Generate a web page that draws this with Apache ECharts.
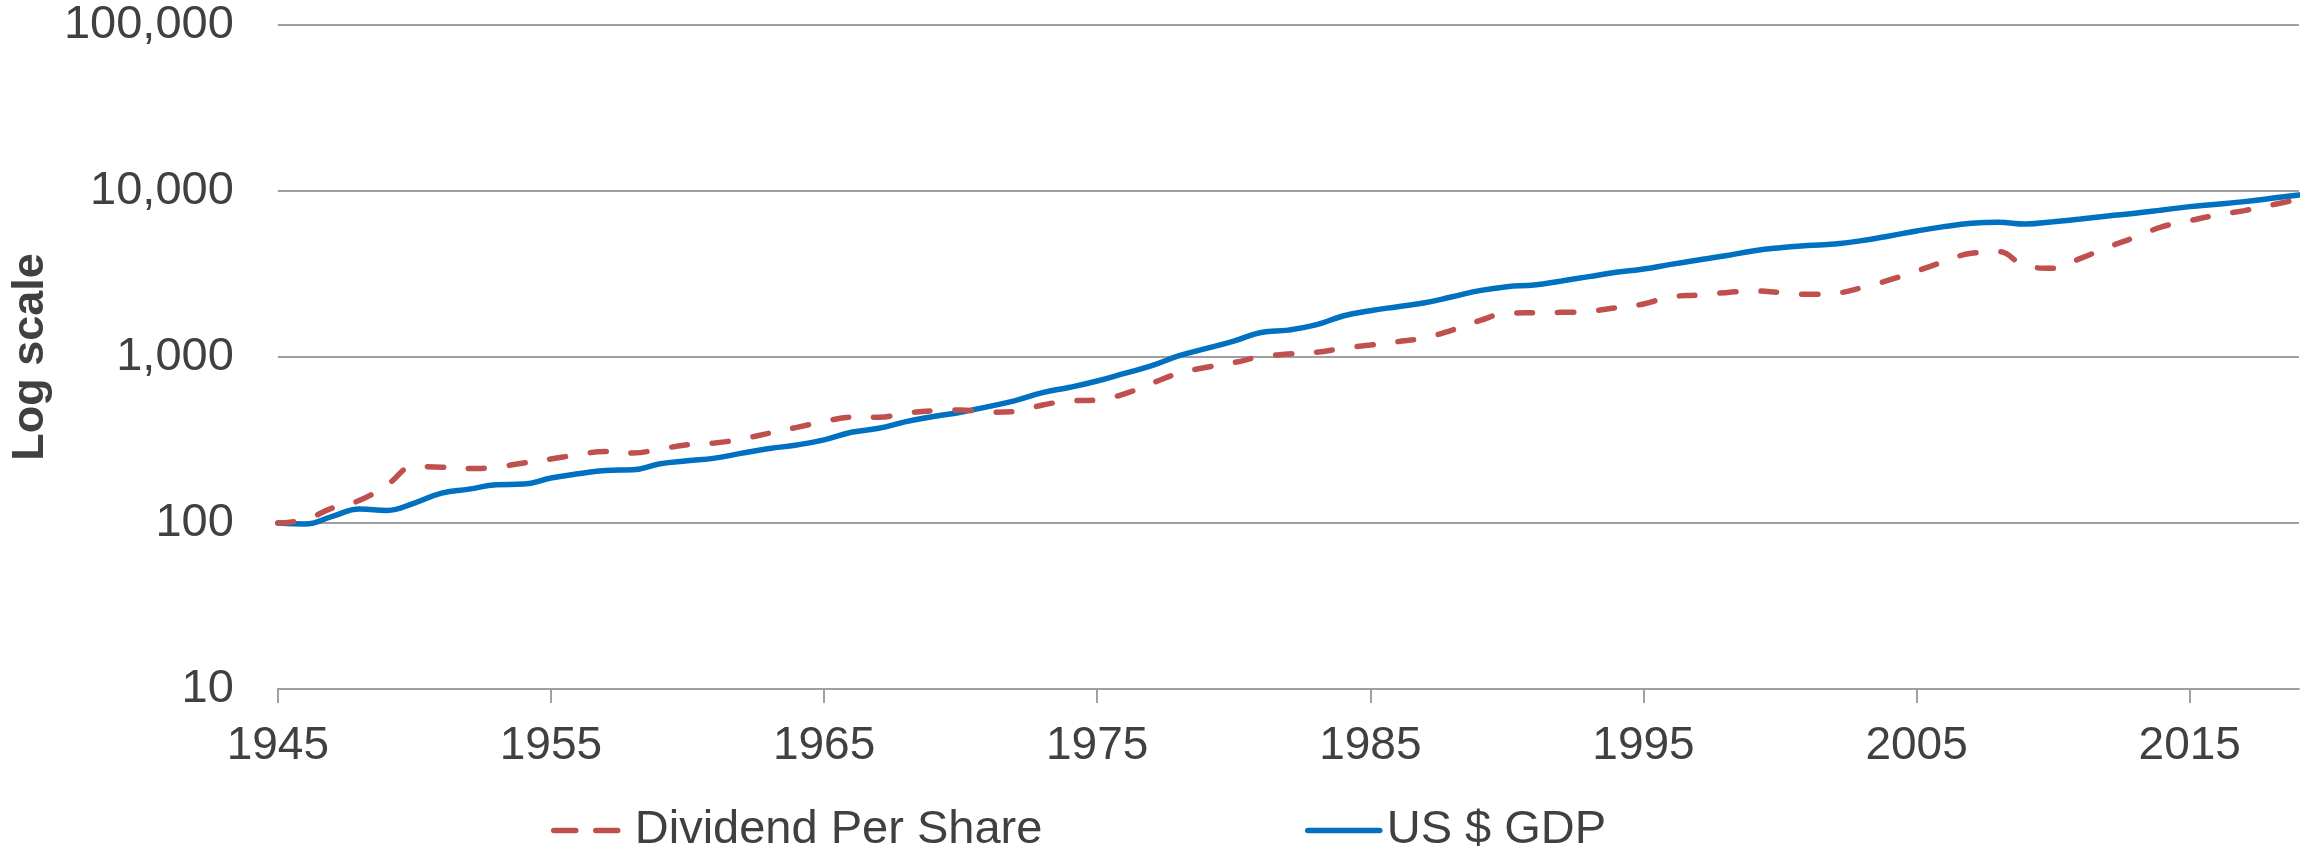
<!DOCTYPE html>
<html>
<head>
<meta charset="utf-8">
<script src="https://cdn.jsdelivr.net/npm/echarts@6/dist/echarts.min.js"></script>
<style>
  html, body { margin: 0; padding: 0; background: #ffffff; }
  #chart { width: 2300px; height: 851px; }
</style>
</head>
<body>
<div id="chart"></div>
<script>
const years = [1945,1946,1947,1948,1949,1950,1951,1952,1953,1954,1955,1956,1957,1958,1959,
  1960,1961,1962,1963,1964,1965,1966,1967,1968,1969,1970,1971,1972,1973,1974,
  1975,1976,1977,1978,1979,1980,1981,1982,1983,1984,1985,1986,1987,1988,1989,
  1990,1991,1992,1993,1994,1995,1996,1997,1998,1999,2000,2001,2002,2003,2004,
  2005,2006,2007,2008,2009,2010,2011,2012,2013,2014,2015,2016,2017,2018,2019];

const dividendPerShare = [100,105,123,137,170,219,217,213,217,230,243,258,270,264,279,
  296,303,321,348,377,408,434,434,458,475,480,465,469,514,543,
  551,600,695,798,867,925,1005,1042,1067,1128,1181,1237,1307,1454,1656,
  1833,1850,1858,1884,1982,2085,2306,2360,2442,2500,2450,2387,2420,2617,2910,
  3298,3750,4215,4310,3535,3420,3925,4580,5262,6100,6625,7165,7620,8240,8915];

const usGdp = [100,98.6,109.7,121.4,119.1,131.9,151.4,160,169.9,171.5,186.5,198,207.4,209.4,227.5,
  237,246,263.6,281,295,317,352,372,408,438,465,502,546,610,657,
  717,797,887,1018,1127,1247,1406,1452,1560,1766,1901,2010,2124,2306,2510,
  2653,2716,2871,3050,3237,3390,3615,3837,4075,4352,4550,4690,4800,5025,5360,
  5745,6100,6385,6475,6325,6535,6780,7070,7335,7685,8050,8315,8630,9040,9465];

const seriesNames = ['Dividend Per Share', 'US $ GDP'];
const yAxisTitle = 'Log scale';

const FONT = '"Liberation Sans", Arial, sans-serif';
const TEXT = '#404040';
const GRID = '#A0A0A0';
const RED = '#C0504D';
const BLUE = '#0070C0';

const chart = echarts.init(document.getElementById('chart'), null, { renderer: 'canvas' });
chart.setOption({
  animation: false,
  backgroundColor: '#ffffff',
  textStyle: { fontFamily: FONT },
  grid: { left: 273, right: 1, top: 25, bottom: 162, containLabel: false },
  legend: [
    {
      data: [seriesNames[0]],
      left: 546, top: 802,
      itemWidth: 70, itemHeight: 20, itemGap: 8,
      itemStyle: { opacity: 0, color: 'rgba(0,0,0,0)', borderWidth: 0 },
      lineStyle: { color: RED, width: 5.5, type: [22, 20], cap: 'round' },
      textStyle: { fontFamily: FONT, fontSize: 47, color: TEXT, padding: [0, 0, 0, 6] }
    },
    {
      data: [seriesNames[1]],
      left: 1300, top: 802,
      itemWidth: 72, itemHeight: 20, itemGap: 8,
      itemStyle: { opacity: 0, color: 'rgba(0,0,0,0)', borderWidth: 0 },
      lineStyle: { color: BLUE, width: 5.5, type: 'solid', cap: 'round' },
      textStyle: { fontFamily: FONT, fontSize: 47, color: TEXT, padding: [0, 0, 0, 2] }
    }
  ],
  xAxis: {
    type: 'category',
    data: years,
    boundaryGap: false,
    axisLine: { show: true, lineStyle: { color: GRID, width: 2 } },
    axisTick: { show: true, interval: 9, length: 14, lineStyle: { color: GRID, width: 2 } },
    axisLabel: { interval: 9, margin: 34, fontSize: 46, color: TEXT, fontFamily: FONT },
    splitLine: { show: false }
  },
  yAxis: {
    type: 'log',
    logBase: 10,
    min: 10,
    max: 100000,
    name: yAxisTitle,
    nameLocation: 'middle',
    nameRotate: 90,
    nameGap: 224,
    nameTextStyle: { fontFamily: FONT, fontSize: 45, fontWeight: 'bold', color: TEXT },
    axisLine: { show: false },
    axisTick: { show: false },
    axisLabel: {
      margin: 44, fontSize: 47, color: TEXT, fontFamily: FONT,
      formatter: v => Math.round(v).toLocaleString('en-US')
    },
    splitLine: { show: true, lineStyle: { color: GRID, width: 2 } }
  },
  series: [
    {
      name: seriesNames[0],
      type: 'line',
      data: dividendPerShare,
      smooth: 0.45,
      showSymbol: false,
      symbol: 'none',
      lineStyle: { color: RED, width: 5.5, type: [16, 25], cap: 'round' },
      itemStyle: { color: RED },
      z: 3
    },
    {
      name: seriesNames[1],
      type: 'line',
      data: usGdp,
      smooth: 0.45,
      showSymbol: false,
      symbol: 'none',
      lineStyle: { color: BLUE, width: 5.5, cap: 'round' },
      itemStyle: { color: BLUE },
      z: 2
    }
  ]
});
</script>
</body>
</html>
